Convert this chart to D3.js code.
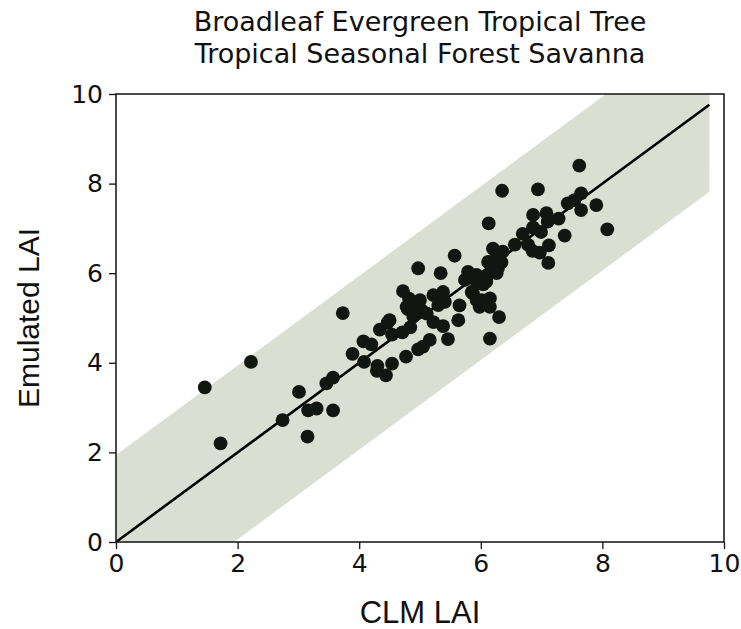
<!DOCTYPE html>
<html>
<head>
<meta charset="utf-8">
<script src="https://cdn.jsdelivr.net/npm/d3@7"></script>
<style>
  body { margin: 0; background: #fff; }
  svg { display: block; }
  .tick text { font-family: "DejaVu Sans", sans-serif; font-size: 25px; fill: #111; }
  .tick line { stroke: #111; stroke-width: 1.3px; }
  .domain { display: none; }
</style>
</head>
<body>
<svg id="chart" width="741" height="629"></svg>
<script>
'use strict';

// title lines
var titleLines = ['Broadleaf Evergreen Tropical Tree', 'Tropical Seasonal Forest Savanna'];

// CLM LAI (x) and emulated LAI (y)
var clmLai = [1.46, 1.72, 2.22, 2.74, 3.01, 3.15, 3.16, 3.30, 3.57, 3.46, 3.57, 3.73, 3.89, 4.08, 4.07, 4.20,
  4.30, 4.29, 4.44, 4.54, 4.34, 4.47, 4.54, 4.77, 4.71, 4.84, 4.72, 4.82, 4.78, 4.92, 4.80, 4.97, 4.97,
  5.00, 5.02, 4.94, 5.22, 5.38, 5.41, 5.30, 5.34, 5.57, 5.65, 5.63, 5.22, 5.38, 5.46, 5.16, 5.05, 5.79,
  5.74, 5.94, 6.09, 6.15, 5.85, 6.01, 5.98, 6.15, 6.15, 6.30, 6.15, 6.26, 6.13, 6.35, 6.94, 7.62, 7.90,
  8.08, 7.65, 7.54, 7.43, 7.65, 6.86, 7.08, 7.10, 7.28, 7.38, 6.69, 6.86, 6.99, 6.56, 6.78, 6.85, 6.97,
  7.12, 7.11, 6.20, 6.36, 6.12, 6.34, 6.28, 5.93, 6.12, 6.26, 6.04, 5.87, 5.93, 6.12, 5.11, 4.89, 4.50];
var emuLai = [3.45, 2.20, 4.02, 2.72, 3.35, 2.35, 2.94, 2.98, 2.94, 3.54, 3.67, 5.11, 4.20, 4.02, 4.48, 4.41,
  3.93, 3.82, 3.72, 3.98, 4.74, 4.90, 4.63, 4.14, 4.68, 4.79, 5.60, 5.43, 5.25, 5.32, 5.20, 6.11, 4.30,
  5.40, 5.18, 5.10, 5.51, 5.58, 5.36, 5.29, 6.00, 6.39, 5.28, 4.95, 4.91, 4.82, 4.53, 4.51, 4.36, 6.03,
  5.85, 5.77, 5.81, 6.22, 5.58, 5.40, 5.25, 5.44, 5.25, 5.02, 4.54, 6.37, 7.11, 7.84, 7.87, 8.40, 7.52,
  6.98, 7.78, 7.63, 7.56, 7.41, 7.30, 7.34, 7.15, 7.22, 6.84, 6.88, 7.02, 6.92, 6.64, 6.63, 6.50, 6.46,
  6.62, 6.23, 6.55, 6.48, 6.25, 6.24, 6.10, 5.96, 5.97, 6.00, 5.75, 5.55, 5.40, 5.29, 5.10, 5.03, 4.95];

// 1:1 line and the +/- band around it
var oneToOneX = [0, 9.76];
var bandHalfWidth = 1.94;

var xTicks = [0, 2, 4, 6, 8, 10];
var yTicks = [0, 2, 4, 6, 8, 10];

var svg = d3.select('#chart');
var m = { left: 116, right: 724, top: 94, bottom: 542 };

var x = d3.scaleLinear().domain([0, 10]).range([m.left, m.right]);
var y = d3.scaleLinear().domain([0, 10]).range([m.bottom, m.top]);

svg.append('defs').append('clipPath').attr('id', 'plotclip')
  .append('rect')
  .attr('x', m.left).attr('y', m.top)
  .attr('width', m.right - m.left).attr('height', m.bottom - m.top);

var plot = svg.append('g').attr('clip-path', 'url(#plotclip)');

// shaded band
var band = d3.area()
  .x(function(d){ return x(d); })
  .y0(function(d){ return y(d - bandHalfWidth); })
  .y1(function(d){ return y(d + bandHalfWidth); });

plot.append('path')
  .datum(oneToOneX)
  .attr('d', band)
  .attr('fill', 'rgb(219,222,211)');

// 1:1 line
plot.append('path')
  .datum(oneToOneX)
  .attr('d', d3.line().x(function(d){ return x(d); }).y(function(d){ return y(d); }))
  .attr('stroke', '#000')
  .attr('stroke-width', 2.6)
  .attr('fill', 'none');

// points
var points = clmLai.map(function(v, i){ return { x: v, y: emuLai[i] }; });
plot.selectAll('circle.pt')
  .data(points)
  .enter().append('circle')
  .attr('class', 'pt')
  .attr('cx', function(d){ return x(d.x); })
  .attr('cy', function(d){ return y(d.y); })
  .attr('r', 6.9)
  .attr('fill', '#121610');

// axes
svg.append('g')
  .attr('transform', 'translate(0,' + m.bottom + ')')
  .call(d3.axisBottom(x).tickValues(xTicks).tickSize(7).tickPadding(5).tickFormat(d3.format('d')));

svg.append('g')
  .attr('transform', 'translate(' + m.left + ',0)')
  .call(d3.axisLeft(y).tickValues(yTicks).tickSize(7).tickPadding(6).tickFormat(d3.format('d')));

// frame
svg.append('rect')
  .attr('x', m.left).attr('y', m.top)
  .attr('width', m.right - m.left).attr('height', m.bottom - m.top)
  .attr('fill', 'none')
  .attr('stroke', '#111')
  .attr('stroke-width', 1.5);

// title
svg.selectAll('text.title')
  .data(titleLines)
  .enter().append('text')
  .attr('class', 'title')
  .attr('x', (m.left + m.right) / 2)
  .attr('y', function(d, i){ return 31 + i * 32; })
  .attr('text-anchor', 'middle')
  .style('font-family', '"DejaVu Sans", sans-serif')
  .style('font-size', '27px')
  .style('fill', '#111')
  .text(function(d){ return d; });

// axis labels
svg.append('text')
  .attr('x', (m.left + m.right) / 2)
  .attr('y', 623)
  .attr('text-anchor', 'middle')
  .style('font-family', '"Liberation Sans", Arial, sans-serif')
  .style('font-size', '31px')
  .style('fill', '#111')
  .text('CLM LAI');

svg.append('text')
  .attr('transform', 'translate(39,' + ((m.top + m.bottom) / 2) + ') rotate(-90)')
  .attr('text-anchor', 'middle')
  .style('font-family', '"Liberation Sans", Arial, sans-serif')
  .style('font-size', '30px')
  .style('fill', '#111')
  .text('Emulated LAI');
</script>
</body>
</html>
